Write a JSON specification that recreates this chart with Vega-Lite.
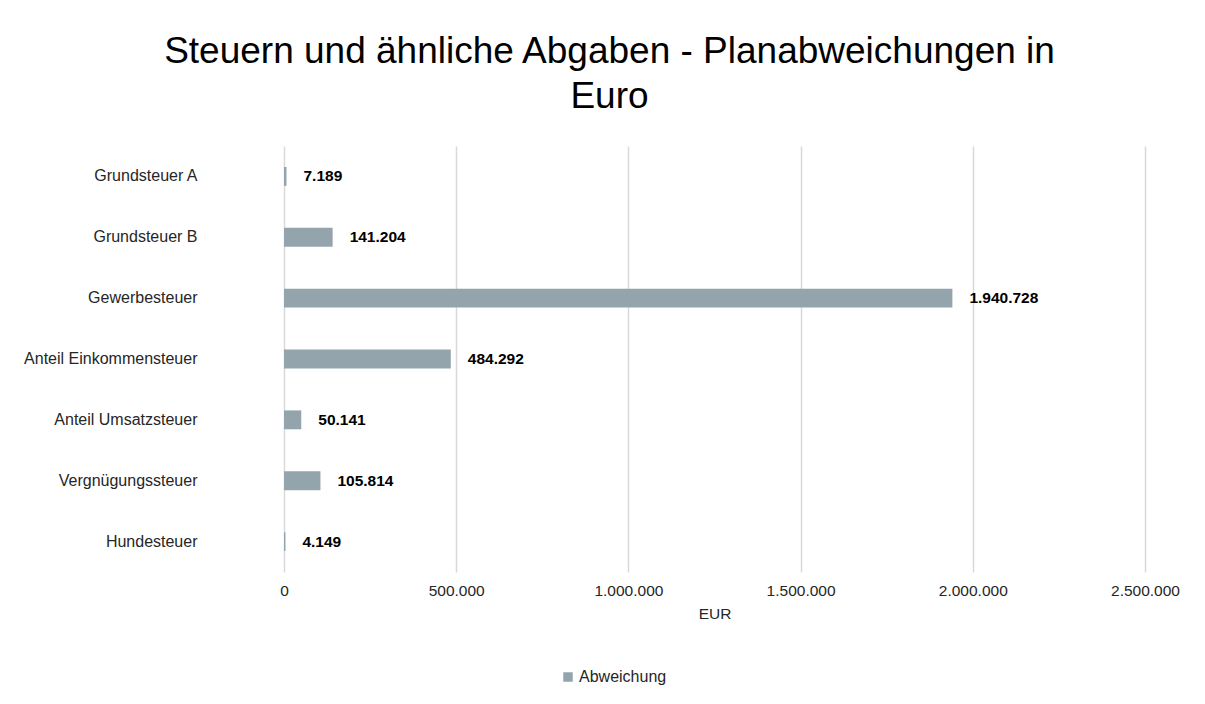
{
  "$schema": "https://vega.github.io/schema/vega-lite/v6.json",
  "autosize": {"type": "none"},
  "width": 861,
  "height": 426,
  "padding": {"left": 284, "top": 146, "right": 60, "bottom": 132},
  "background": "white",
  "config": {
    "locale": {"number": {"decimal": ",", "thousands": ".", "grouping": [3], "currency": ["", " €"]}},
    "font": "Liberation Sans",
    "view": {"stroke": null}
  },
  "title": {
    "text": ["Steuern und ähnliche Abgaben - Planabweichungen in", "Euro"],
    "fontSize": 37,
    "fontWeight": "normal",
    "color": "#000000",
    "font": "Liberation Sans",
    "lineHeight": 45,
    "anchor": "middle",
    "dx": -105,
    "offset": 30
  },
  "data": {
    "values": [
      {"kategorie": "Grundsteuer A", "wert": 7189},
      {"kategorie": "Grundsteuer B", "wert": 141204},
      {"kategorie": "Gewerbesteuer", "wert": 1940728},
      {"kategorie": "Anteil Einkommensteuer", "wert": 484292},
      {"kategorie": "Anteil Umsatzsteuer", "wert": 50141},
      {"kategorie": "Vergnügungssteuer", "wert": 105814},
      {"kategorie": "Hundesteuer", "wert": 4149}
    ]
  },
  "encoding": {
    "y": {
      "field": "kategorie",
      "type": "nominal",
      "sort": null,
      "scale": {"paddingInner": 0.69, "paddingOuter": 0.345},
      "axis": {
        "title": null,
        "domain": false,
        "ticks": false,
        "labelPadding": 87,
        "labelFontSize": 16,
        "labelColor": "#262626",
        "labelFont": "Liberation Sans"
      }
    },
    "x": {
      "field": "wert",
      "type": "quantitative",
      "scale": {"domain": [0, 2500000], "nice": false},
      "axis": {
        "title": "EUR",
        "titleFontSize": 15.5,
        "titleFontWeight": "normal",
        "titleColor": "#262626",
        "titlePadding": 8,
        "values": [0, 500000, 1000000, 1500000, 2000000, 2500000],
        "format": ",d",
        "domain": false,
        "ticks": false,
        "labelFlush": false,
        "labelPadding": 11,
        "labelFontSize": 15.5,
        "labelColor": "#262626",
        "gridColor": "#d9d9d9",
        "gridWidth": 1.5
      }
    }
  },
  "layer": [
    {
      "mark": {"type": "bar"},
      "encoding": {
        "color": {
          "datum": "Abweichung",
          "scale": {"range": ["#93A4AC"]},
          "legend": {
            "title": null,
            "orient": "none",
            "legendX": 276,
            "legendY": 523,
            "symbolType": "square",
            "symbolSize": 90,
            "symbolStrokeWidth": 0,
            "labelFontSize": 16,
            "labelColor": "#262626",
            "labelOffset": 3
          }
        }
      }
    },
    {
      "mark": {"type": "text", "align": "left", "baseline": "middle", "dx": 17, "fontSize": 15.5, "fontWeight": "bold", "color": "#000000"},
      "encoding": {
        "text": {"field": "wert", "type": "quantitative", "format": ",d"}
      }
    }
  ]
}
